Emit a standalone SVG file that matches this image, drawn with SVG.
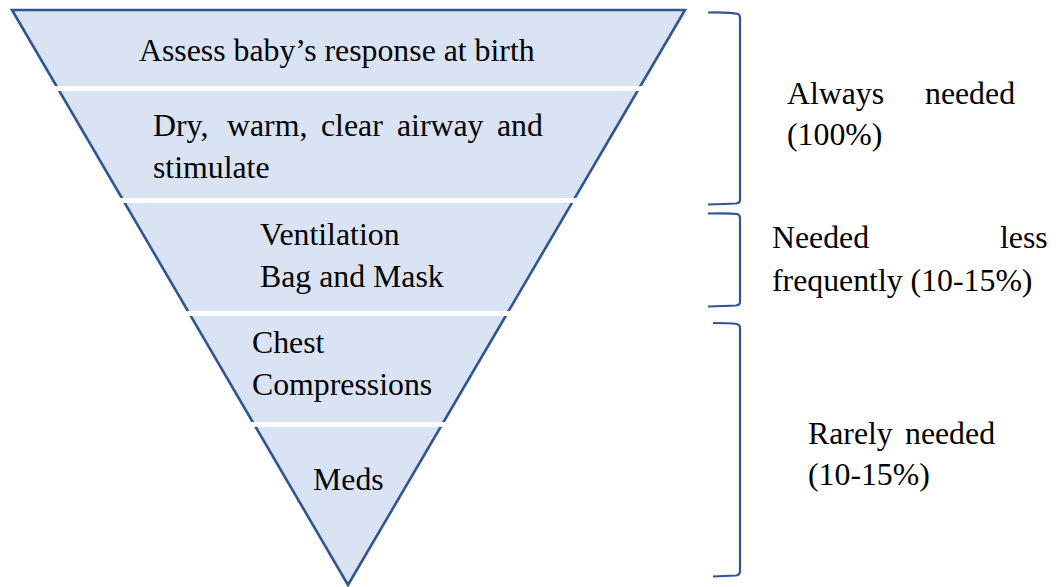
<svg xmlns="http://www.w3.org/2000/svg" width="1058" height="587" viewBox="0 0 1058 587">
<style>
.t{font-family:"Liberation Serif","Times New Roman",serif;font-size:31.8px;fill:#000}
.br{fill:none;stroke:#2F5597;stroke-width:2.2;stroke-linecap:butt}
</style>
<rect width="1058" height="587" fill="#fff"/>
<g id="pyramid">
<polygon points="12,10 685,10 348,585" fill="#DAE3F3" stroke="#2F5597" stroke-width="2.6" stroke-linejoin="miter"/>
<rect x="0" y="86" width="700" height="5" fill="#fff"/>
<rect x="0" y="198" width="700" height="5" fill="#fff"/>
<rect x="0" y="311" width="700" height="5" fill="#fff"/>
<rect x="0" y="422" width="700" height="5" fill="#fff"/>
</g>
<g id="level1"><text class="t" x="139" y="61">Assess baby’s response at birth</text></g>
<g id="level2">
<text class="t" y="136"><tspan x="153">Dry,</tspan><tspan x="227">warm,</tspan><tspan x="321">clear</tspan><tspan x="397">airway</tspan><tspan x="497">and</tspan></text>
<text class="t" x="153" y="178">stimulate</text>
</g>
<g id="level3">
<text class="t" x="260" y="245">Ventilation</text>
<text class="t" x="260" y="287">Bag and Mask</text>
</g>
<g id="level4">
<text class="t" x="252" y="353">Chest</text>
<text class="t" x="252" y="395">Compressions</text>
</g>
<g id="level5"><text class="t" x="313" y="490">Meds</text></g>
<g id="connectors">
<path class="br" d="M708,12.5 Q730,12 738,14 Q740,15 740,18 L740,200 Q740,203 736,203.5 Q725,204 708,204.5"/>
<path class="br" d="M708,213.5 Q730,213 737,214 Q740,215 740,218 L740,302 Q740,305 736,305.5 Q725,306 708,306.5"/>
<path class="br" d="M713,323 Q730,323 737,324 Q740,325 740,328 L740,571 Q740,575 736,575.5 Q725,576 713,576.5"/>
</g>
<g id="label1">
<text class="t" y="104"><tspan x="787">Always</tspan><tspan x="925">needed</tspan></text>
<text class="t" x="787" y="145">(100%)</text>
</g>
<g id="label2">
<text class="t" y="248"><tspan x="772">Needed</tspan><tspan x="1000">less</tspan></text>
<text class="t" x="772" y="291">frequently (10-15%)</text>
</g>
<g id="label3">
<text class="t" y="444"><tspan x="808">Rarely</tspan><tspan x="905">needed</tspan></text>
<text class="t" x="808" y="485">(10-15%)</text>
</g>
</svg>
